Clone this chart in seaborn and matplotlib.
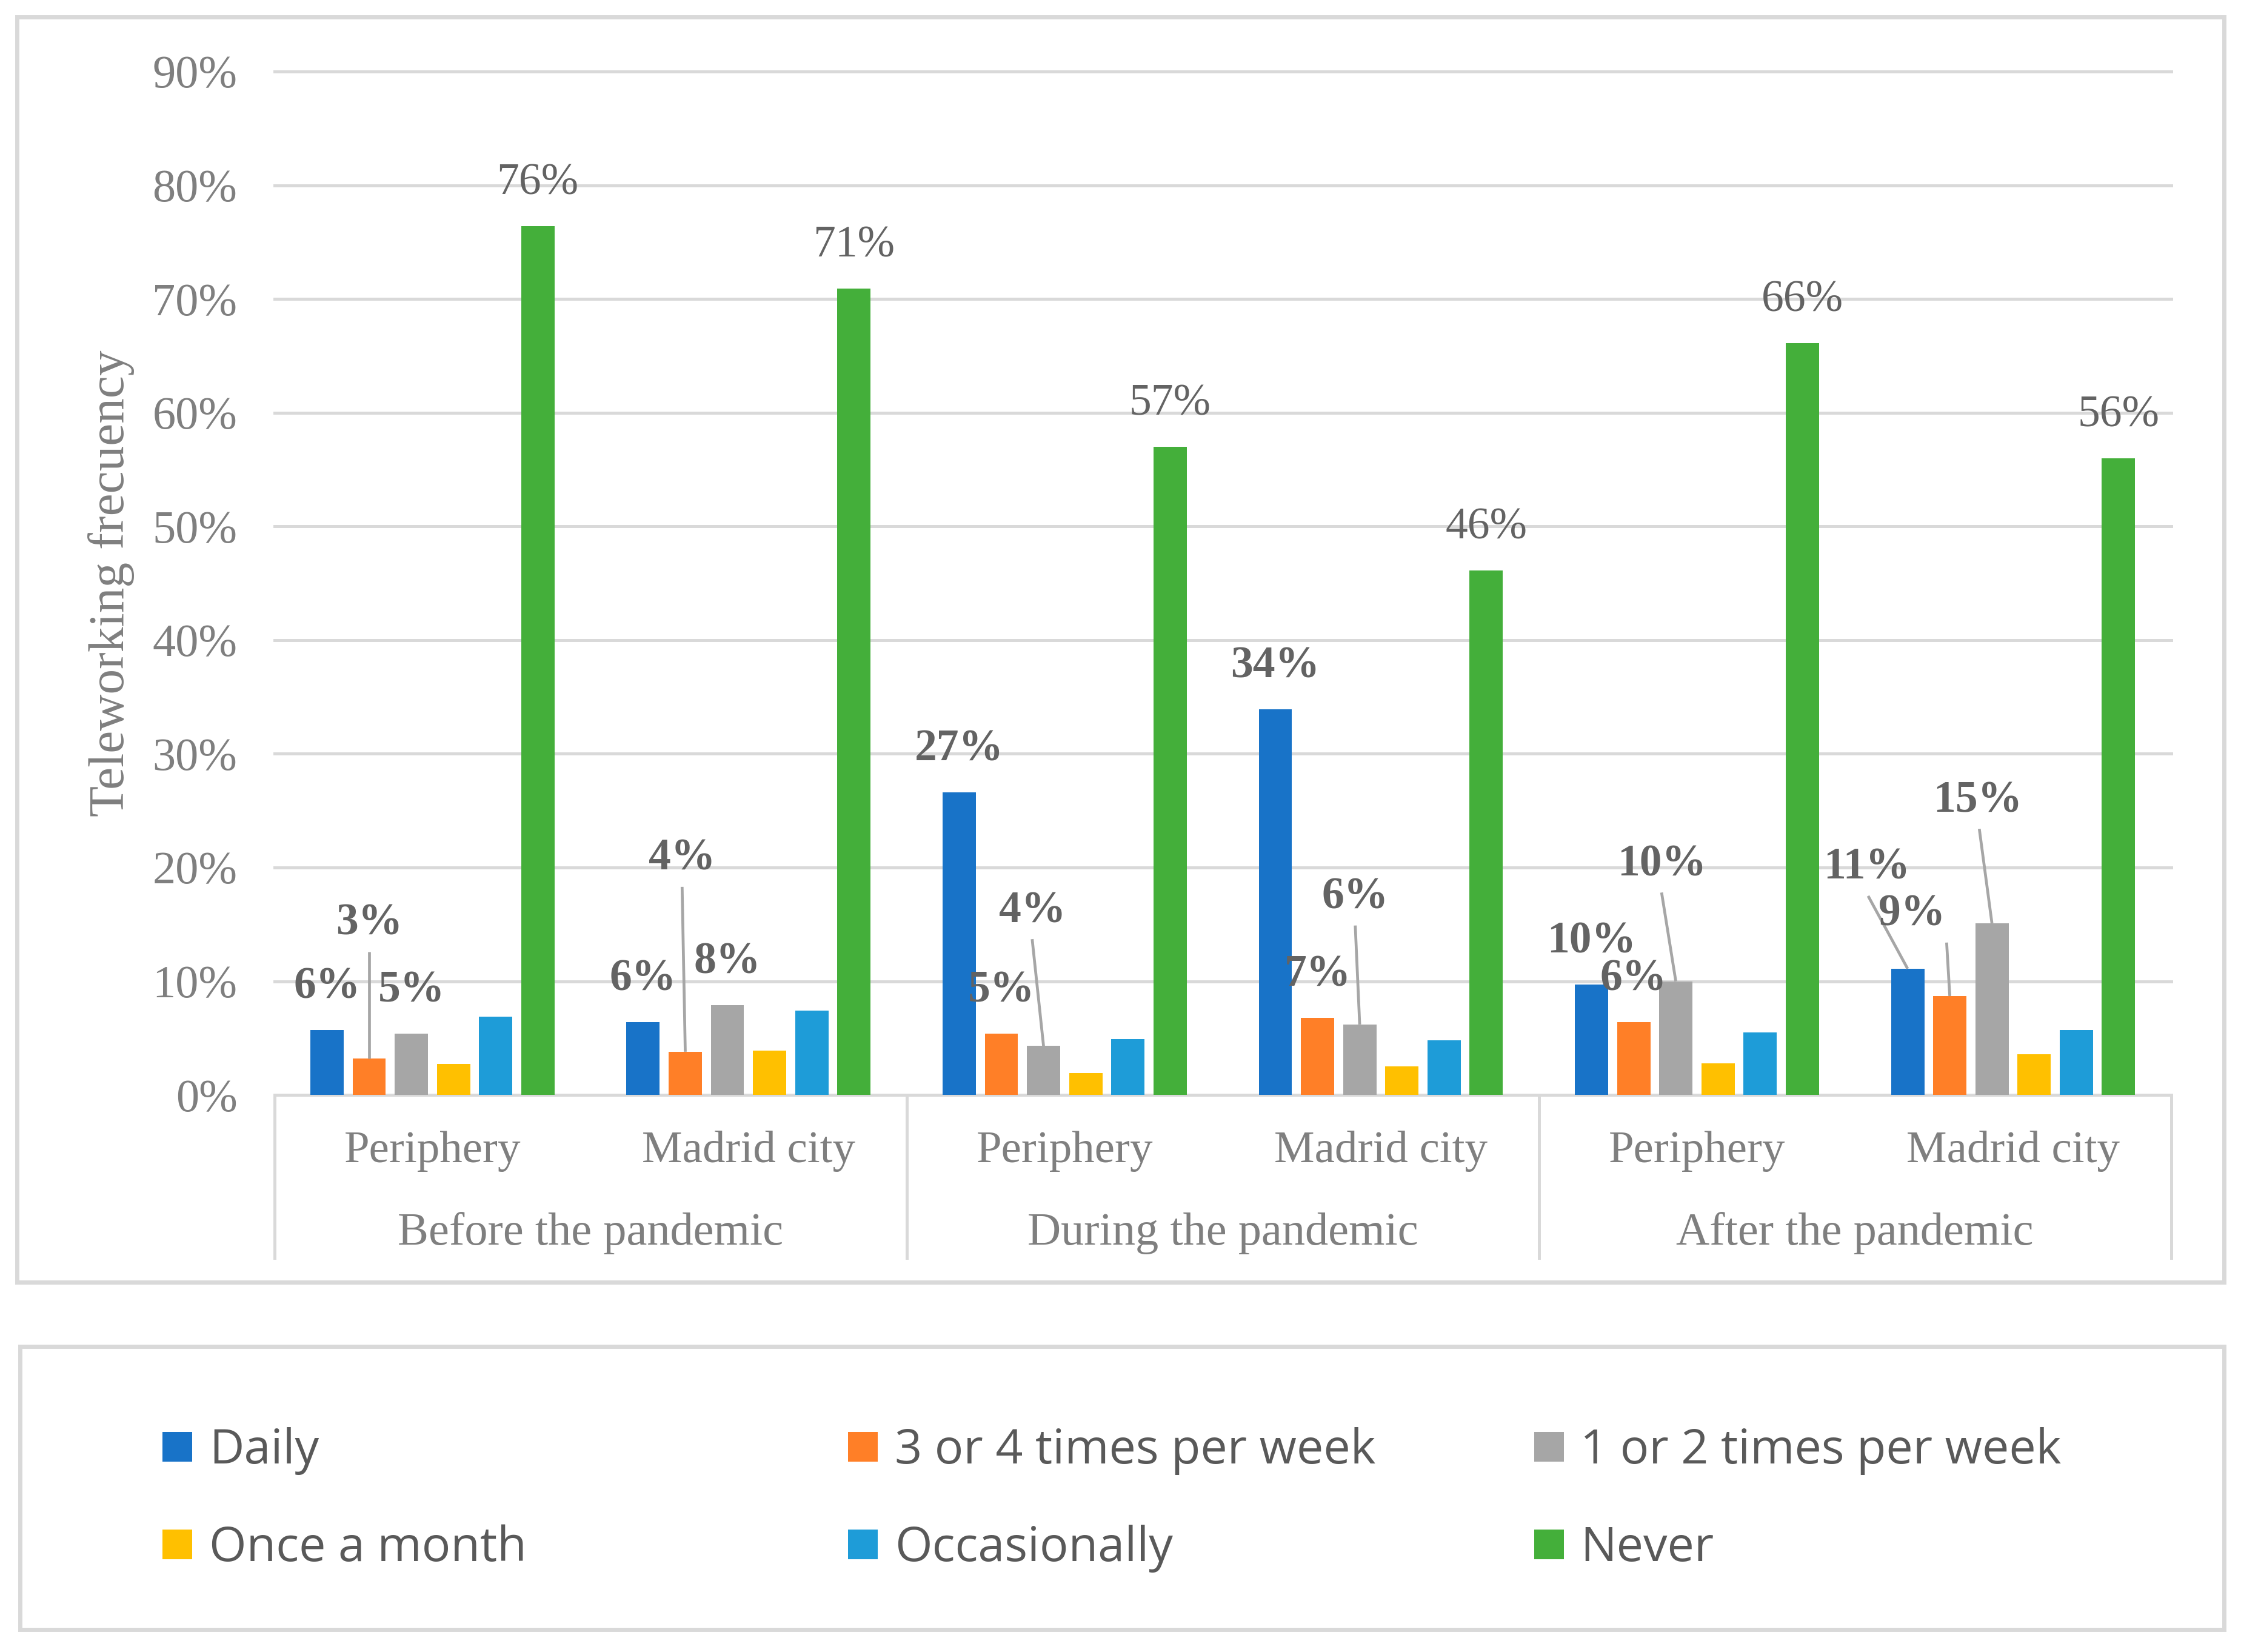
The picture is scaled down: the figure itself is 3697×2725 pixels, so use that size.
import matplotlib
matplotlib.use("Agg")
import matplotlib.pyplot as plt
import matplotlib.transforms as mtransforms
from matplotlib.patches import Rectangle
from matplotlib.font_manager import FontProperties
import seaborn as sns
import pandas as pd

# ---------------- data ----------------
periods = ["Before the pandemic", "During the pandemic", "After the pandemic"]
locations = ["Periphery", "Madrid city"]
frequencies = ["Daily", "3 or 4 times per week", "1 or 2 times per week",
               "Once a month", "Occasionally", "Never"]

# values (%) per slot: Before-Periphery, Before-Madrid, During-Periphery,
# During-Madrid, After-Periphery, After-Madrid
daily = [5.7, 6.4, 26.6, 33.9, 9.7, 11.1]
three_four = [3.2, 3.8, 5.4, 6.8, 6.4, 8.7]
one_two = [5.4, 7.9, 4.3, 6.2, 10.0, 15.1]
once_month = [2.7, 3.9, 1.9, 2.5, 2.8, 3.6]
occasionally = [6.9, 7.4, 4.9, 4.8, 5.5, 5.7]
never = [76.4, 70.9, 57.0, 46.1, 66.1, 56.0]

yticks = [0, 10, 20, 30, 40, 50, 60, 70, 80, 90]
y_label = "Teleworking frecuency"

# series that carry data labels
labelled = ["Daily", "3 or 4 times per week", "1 or 2 times per week", "Never"]

# ---------------- styles / layout ----------------
colors = {
    "Daily": "#1873C8",
    "3 or 4 times per week": "#FF7F27",
    "1 or 2 times per week": "#A6A6A6",
    "Once a month": "#FFC000",
    "Occasionally": "#1E9CD8",
    "Never": "#44AF3A",
}
# manually moved labels: (slot, series) -> (text dx, text centre y, leader dx)
moved_labels = {
    (0, 1): (0.0, 15.5, 0.0),
    (1, 1): (-0.01, 21.2, -0.01),
    (2, 2): (-0.036, 16.6, -0.036),
    (3, 2): (-0.014, 17.8, -0.014),
    (4, 2): (-0.045, 20.7, -0.045),
    (5, 0): (-0.13, 20.4, -0.125),
    (5, 1): (-0.119, 16.3, -0.01),
    (5, 2): (-0.045, 26.3, -0.04),
}

plt.rcParams["font.family"] = ["Liberation Serif", "DejaVu Serif"]

series = [daily, three_four, one_two, once_month, occasionally, never]
slots = [f"{p}|{l}" for p in periods for l in locations]
rows = []
for f, vals in zip(frequencies, series):
    for s, v in zip(slots, vals):
        rows.append({"slot": s, "freq": f, "value": v})
df = pd.DataFrame(rows)

W, H = 3697, 2725
DPI = 100
fig = plt.figure(figsize=(W / DPI, H / DPI), dpi=DPI)
fig.patch.set_facecolor("white")

ax = fig.add_axes([0.1224, 0.3372, 0.8464, 0.6195])
sns.barplot(data=df, x="slot", y="value", hue="freq", order=slots,
            hue_order=frequencies, palette=colors, width=0.8, gap=0.21,
            errorbar=None, saturation=1, linewidth=0, ax=ax)

handles, labels = ax.get_legend_handles_labels()
if ax.get_legend() is not None:
    ax.get_legend().remove()

ax.set_xlim(-0.5, 5.5)
ax.set_ylim(0, 90)
ax.set_yticks(yticks)
ax.set_yticklabels([f"{t}%" for t in yticks])
ax.tick_params(axis="y", length=0, pad=44, labelsize=55, labelcolor="#7F7F7F")
ax.set_xticks([])
ax.set_xlabel("")
ax.set_ylabel("")
for sp in ax.spines.values():
    sp.set_visible(False)
ax.set_axisbelow(True)
ax.yaxis.grid(True, color="#D9D9D9", linewidth=3.6)
for gl in ax.get_ygridlines():
    gl.set_clip_on(False)

GRAY_TXT = "#7F7F7F"
LBL = "#636363"
blend = mtransforms.blended_transform_factory(ax.transData, ax.transAxes)

# category axis (two levels)
for xb in [-0.5, 1.5, 3.5, 5.5]:
    ax.axvline(xb, ymin=-0.159, ymax=0, color="#D9D9D9", linewidth=3.6,
               clip_on=False)
for i, s in enumerate(slots):
    ax.text(i, -0.055, s.split("|")[1], transform=blend, ha="center",
            va="center", fontsize=54, color=GRAY_TXT)
for k, p in enumerate(periods):
    ax.text(2 * k + 0.5, -0.135, p, transform=blend, ha="center",
            va="center", fontsize=55, color=GRAY_TXT)

ax.text(-0.086, 0.5, y_label, transform=ax.transAxes, rotation=90,
        ha="center", va="center", fontsize=60, color=GRAY_TXT)

# data labels
for j, (f, cont) in enumerate(zip(frequencies, ax.containers)):
    if f not in labelled:
        continue
    for i, bar in enumerate(cont):
        xc = bar.get_x() + bar.get_width() / 2
        top = bar.get_height()
        txt = f"{top:.0f}%"
        weight = "normal" if f == "Never" else "bold"
        if (i, j) in moved_labels:
            dx, yc, ldx = moved_labels[(i, j)]
            yb = yc - 1.4
            ax.text(xc + dx, yb, txt, ha="center", va="baseline",
                    fontsize=53, fontweight=weight, color=LBL, zorder=5)
            ax.plot([xc + ldx, xc], [yb - 1.5, top], color="#A6A6A6",
                    linewidth=3.4, solid_capstyle="butt", zorder=4)
        else:
            ax.text(xc, top + 2.8, txt, ha="center", va="baseline",
                    fontsize=53, fontweight=weight, color=LBL, zorder=5)

# frames
fig.add_artist(Rectangle((0.0077, 0.2238), 0.9846, 0.7658,
                         transform=fig.transFigure, fill=False,
                         edgecolor="#D9D9D9", linewidth=5))
fig.add_artist(Rectangle((0.0089, 0.0136), 0.9834, 0.1713,
                         transform=fig.transFigure, fill=False,
                         edgecolor="#D9D9D9", linewidth=5))

# legend, one entry per slot in a 3x2 grid
col_x = [0.0725, 0.3785, 0.6845]
row_y = [0.1215, 0.0625]
hmap = dict(zip(labels, handles))
lprop = FontProperties(family="Open Sans", size=57)
for k, f in enumerate(frequencies):
    r, c = divmod(k, 3)
    fig.legend([hmap[f]], [f], loc="center left",
               bbox_to_anchor=(col_x[c], row_y[r]),
               bbox_transform=fig.transFigure, frameon=False, borderpad=0,
               borderaxespad=0, handlelength=0.62, handleheight=0.58,
               handletextpad=0.35, prop=lprop, labelcolor="#595959")

fig.savefig("out.png", dpi=DPI)
